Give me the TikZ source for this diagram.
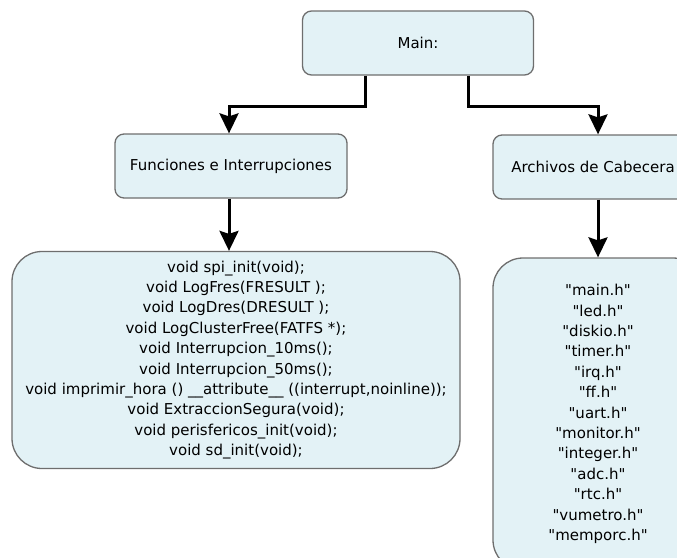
\documentclass[tikz,border=0pt]{standalone}
\usepackage{fontspec}
\setmainfont{DejaVu Sans}
\usetikzlibrary{arrows.meta,positioning}
\definecolor{boxfill}{RGB}{227,242,246}
\definecolor{boxline}{RGB}{110,110,110}
\newcommand{\hfile}[1]{\textquotedbl#1\textquotedbl}

\begin{document}
\begin{tikzpicture}[x=1pt, y=-1pt, every node/.style={font=\fontsize{15}{20.4}\selectfont},
	box/.style={draw=boxline, fill=boxfill, line width=1.3pt, rounded corners=9pt, minimum height=64pt},
	listbox/.style={draw=boxline, fill=boxfill, line width=1.3pt, rounded corners=30pt, align=center},
	link/.style={line width=3pt, -{Stealth[length=20pt, width=19pt, inset=3pt]}}]
				\useasboundingbox (0,0) rectangle (677,557);
				\clip (0,0) rectangle (677,557);
				\node[box, minimum width=231pt] (main) at (418,43) {Main:};
				\node[box, minimum width=232pt] (func) at (231,166) {Funciones e Interrupciones};
				\node[box, minimum width=200pt] (arch) at (593,167) {Archivos de Cabecera};
				\node[listbox, minimum width=448pt, minimum height=217pt] (code) at (236,360) {void spi\_init(void);\\void LogFres(FRESULT );\\void LogDres(DRESULT );\\void LogClusterFree(FATFS *);\\void Interrupcion\_10ms();\\void Interrupcion\_50ms();\\void imprimir\_hora () \_\_attribute\_\_ ((interrupt,noinline));\\void ExtraccionSegura(void);\\void perisfericos\_init(void);\\void sd\_init(void);};
				\node[listbox, minimum width=210pt, minimum height=312pt] (head) at (598,414) {\hfile{main.h}\\\hfile{led.h}\\\hfile{diskio.h}\\\hfile{timer.h}\\\hfile{irq.h}\\\hfile{ff.h}\\\hfile{uart.h}\\\hfile{monitor.h}\\\hfile{integer.h}\\\hfile{adc.h}\\\hfile{rtc.h}\\\hfile{vumetro.h}\\\hfile{memporc.h}};
				\draw[link] ([xshift=-53pt]main.south) -- ++(0,31) -| ([xshift=-2pt]func.north);
				\draw[link] ([xshift=50pt]main.south) -- ++(0,31) -| ([xshift=5pt]arch.north);
				\draw[link] ([xshift=-2pt]func.south) -- ([xshift=-2pt]func.south |- code.north);
				\draw[link] ([xshift=5pt]arch.south) -- (head.north);
			\end{tikzpicture}
\end{document}
